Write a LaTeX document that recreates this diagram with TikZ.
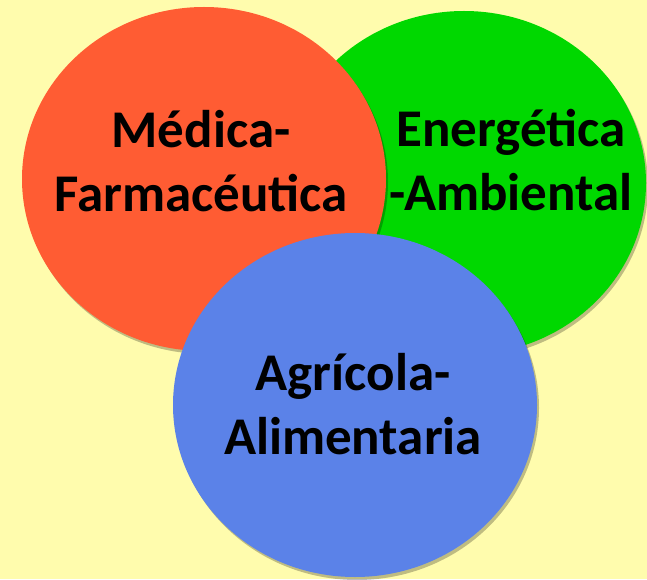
\documentclass[tikz,border=0pt]{standalone}
\usepackage{fontspec}
\setmainfont{Carlito}
\usepackage{tikz}
\usetikzlibrary{positioning, shapes.geometric, shadows}
\usepackage{xcolor}
\definecolor{Paper}{HTML}{FFFCAD}
\definecolor{Coral}{HTML}{FF5C33}
\definecolor{Leaf}{HTML}{00D800}
\definecolor{Sky}{HTML}{5B82E8}

\begin{document}
\begin{tikzpicture}[
    x=1pt, y=1pt,
    every node/.style={font=\fontsize{53}{64}\selectfont\bfseries},
    disc/.style={ellipse, minimum width=364pt, minimum height=344pt, inner sep=0pt,
        drop shadow={shadow xshift=2pt, shadow yshift=-3pt, fill=black, opacity=0.25}},
    sector/.style={align=center, text=black}
]

% === Background ===
\fill[Paper] (0, 0) rectangle (647, 579);
\useasboundingbox (0, 0) rectangle (647, 579);

% === Circles (green under red, blue on top) ===
\node[disc, fill=Leaf] (energ) at (464, 396) {};
\node[disc, fill=Coral] (medic) at (204, 400) {};
\node[disc, fill=Sky] (agri) at (355, 174) {};

% Labels
\node[sector] (medicTxt) at (201, 418) {Médica-\\Farmacéutica};
\node[sector] (energTxt) at (511, 419) {Energética\\-Ambiental};
\node[sector] (agriTxt) at (353, 175) {Agrícola-\\Alimentaria};

\end{tikzpicture}
\end{document}
